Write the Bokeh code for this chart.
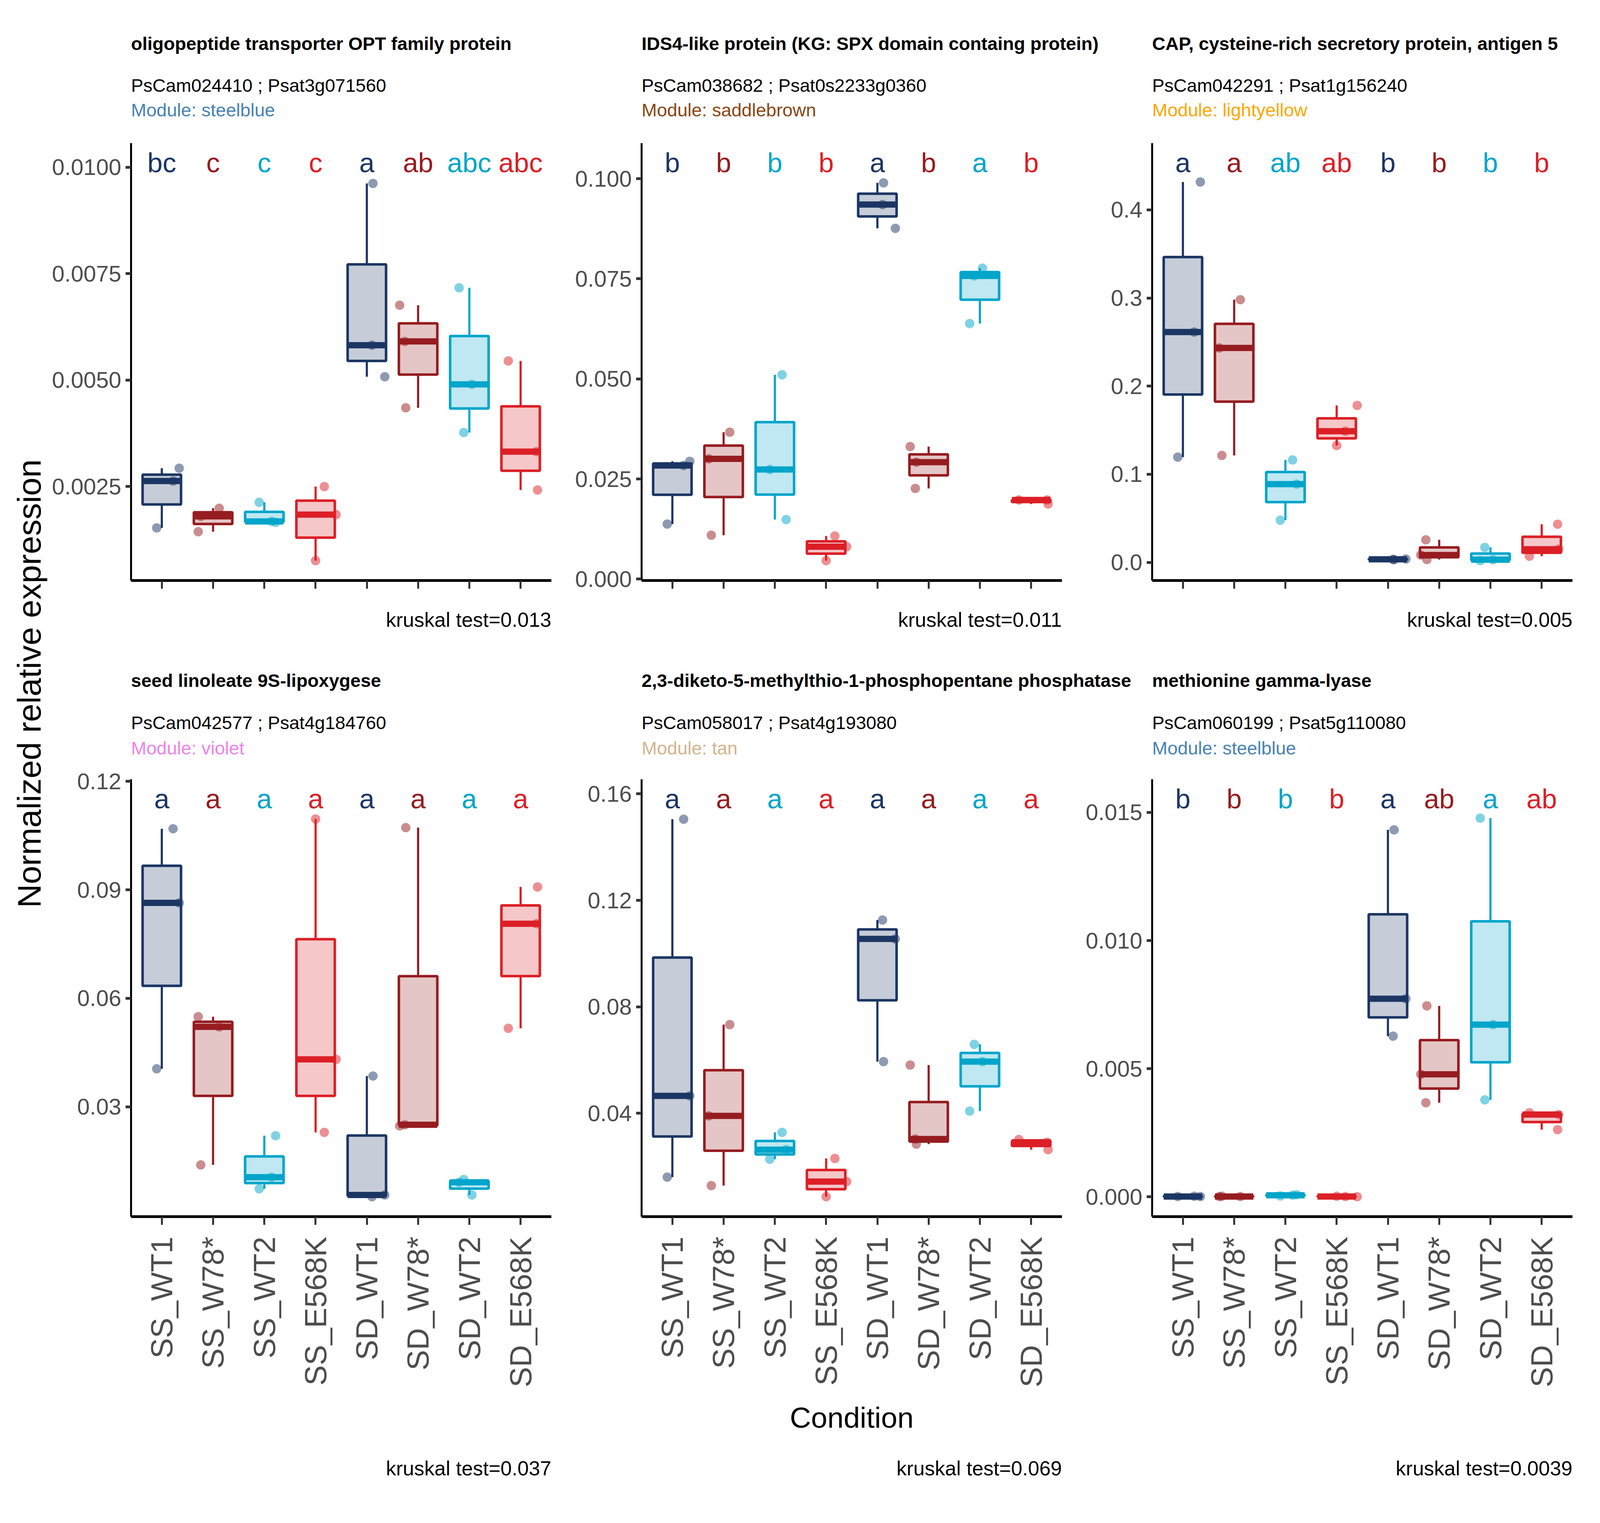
import numpy as np
from math import pi
from bokeh.plotting import figure
from bokeh.models import Range1d, FixedTicker, PrintfTickFormatter
from bokeh.layouts import row, column
from bokeh.embed import file_html
from bokeh.resources import INLINE
from bokeh.core.properties import value

FONT = "Liberation Sans"

# ---------------- data ----------------
conditions = ["SS_WT1", "SS_W78*", "SS_WT2", "SS_E568K",
              "SD_WT1", "SD_W78*", "SD_WT2", "SD_E568K"]
group_colors = ["#1C3664", "#961C20", "#00A5CA", "#DC1F26",
                "#1C3664", "#961C20", "#00A5CA", "#DC1F26"]

# horizontal jitter of the three replicates of each condition (shared by all panels)
jitter_offsets = [[-0.10, 0.22, 0.34], [-0.29, -0.24, 0.12], [-0.10, 0.14, 0.22],
                  [0.00, 0.17, 0.40], [0.10, 0.12, 0.35], [-0.36, -0.26, -0.24],
                  [-0.20, -0.11, 0.05], [-0.24, 0.31, 0.33]]

titles = ["oligopeptide transporter OPT family protein",
          "IDS4-like protein (KG: SPX domain containg protein)",
          "CAP, cysteine-rich secretory protein, antigen 5",
          "seed linoleate 9S-lipoxygese",
          "2,3-diketo-5-methylthio-1-phosphopentane phosphatase",
          "methionine gamma-lyase"]
gene_ids = ["PsCam024410 ; Psat3g071560", "PsCam038682 ; Psat0s2233g0360",
            "PsCam042291 ; Psat1g156240", "PsCam042577 ; Psat4g184760",
            "PsCam058017 ; Psat4g193080", "PsCam060199 ; Psat5g110080"]
modules = ["steelblue", "saddlebrown", "lightyellow", "violet", "tan", "steelblue"]
module_colors = ["#4682B4", "#8B4513", "#FFA500", "#EE82EE", "#D2B48C", "#4682B4"]
kruskal = ["0.013", "0.011", "0.005", "0.037", "0.069", "0.0039"]

letters = [["bc", "c", "c", "c", "a", "ab", "abc", "abc"],
           ["b", "b", "b", "b", "a", "b", "a", "b"],
           ["a", "a", "ab", "ab", "b", "b", "b", "b"],
           ["a"] * 8,
           ["a"] * 8,
           ["b", "b", "b", "b", "a", "ab", "a", "ab"]]

y_ticks = [[0.0025, 0.0050, 0.0075, 0.0100],
           [0.000, 0.025, 0.050, 0.075, 0.100],
           [0.0, 0.1, 0.2, 0.3, 0.4],
           [0.03, 0.06, 0.09, 0.12],
           [0.04, 0.08, 0.12, 0.16],
           [0.000, 0.005, 0.010, 0.015]]
y_formats = ["%.4f", "%.3f", "%.1f", "%.2f", "%.2f", "%.3f"]

expr_opt = [[0.00153, 0.00263, 0.00293], [0.00144, 0.00180, 0.00199],
            [0.00213, 0.00168, 0.00166], [0.00076, 0.00250, 0.00184],
            [0.00582, 0.00962, 0.00508], [0.00676, 0.00591, 0.00435],
            [0.00717, 0.00377, 0.00490], [0.00545, 0.00332, 0.00242]]
expr_ids4 = [[0.01373, 0.02838, 0.02941], [0.03002, 0.01096, 0.03668],
             [0.02736, 0.05103, 0.01486], [0.00461, 0.01076, 0.00809],
             [0.09355, 0.09898, 0.08760], [0.03309, 0.02264, 0.02920],
             [0.06383, 0.07572, 0.07766], [0.01977, 0.01977, 0.01875]]
expr_cap = [[0.1195, 0.2614, 0.4316], [0.2433, 0.1214, 0.2981],
            [0.0479, 0.1163, 0.0888], [0.1326, 0.1488, 0.1781],
            [0.0035, 0.0030, 0.0038], [0.0084, 0.0256, 0.0033],
            [0.0020, 0.0170, 0.0030], [0.0070, 0.0433, 0.0149]]
expr_lox = [[0.0405, 0.1069, 0.0864], [0.0549, 0.0139, 0.0521],
            [0.0073, 0.0105, 0.0220], [0.1096, 0.0229, 0.0431],
            [0.0051, 0.0385, 0.0056], [0.0247, 0.0250, 0.1072],
            [0.0091, 0.0099, 0.0056], [0.0517, 0.0806, 0.0908]]
expr_dk = [[0.0160, 0.1505, 0.0465], [0.0390, 0.0128, 0.0733],
           [0.0227, 0.0328, 0.0263], [0.0086, 0.0230, 0.0143],
           [0.1126, 0.0594, 0.1055], [0.0581, 0.0303, 0.0284],
           [0.0408, 0.0659, 0.0594], [0.0301, 0.0291, 0.0263]]
expr_mgl = [[0.00001, 0.00002, 0.00001], [0.00001, 0.00002, 0.00001],
            [0.00003, 0.00006, 0.00008], [0.00002, 0.00001, 0.00000],
            [0.00627, 0.01432, 0.00773], [0.00478, 0.00367, 0.00745],
            [0.01478, 0.00378, 0.00672], [0.00328, 0.00262, 0.00321]]
panels = [expr_opt, expr_ids4, expr_cap, expr_lox, expr_dk, expr_mgl]

# ---------------- layout: the page viewport is 4096 css px wide, 3900 tall ----------------
SX = 4096 / 6000.0   # horizontal css px per reference px (vertical is 1:1)


def isx(v):
    return int(round(v * SX))


MARGIN = 8
YLAB_W = isx(198) - MARGIN
COL_W = isx(1915)
L_BORDER = isx(304)
FRAME_W = isx(1576)
R_BORDER = COL_W - L_BORDER - FRAME_W
TOTAL_W = 3 * COL_W
FRAME_H = 1120
TOP_B = 45
MB1 = 40
MB2 = 470

FS_TITLE = "47px"
FS_YTICK = "58px"
FS_XTICK = "78px"
FS_LETTER = "70px"
FS_KW = "52px"
FS_COND = "75px"
FS_YLAB = "84px"


def text_fig(width, height):
    f = figure(width=width, height=height, x_range=Range1d(0, width), y_range=Range1d(0, height),
               output_backend="svg", toolbar_location=None, min_border=0,
               x_axis_location=None, y_axis_location=None)
    f.grid.visible = False
    f.outline_line_color = None
    return f


def make_main(k, bottom_row):
    vals = np.array(panels[k], dtype=float)
    lo = vals.min()
    hi = vals.max() * 1.05
    rng = hi - lo
    mb = MB2 if bottom_row else MB1
    p = figure(width=COL_W, height=TOP_B + FRAME_H + mb,
               x_range=Range1d(0.4, 8.6), y_range=Range1d(lo - 0.05 * rng, hi + 0.05 * rng),
               output_backend="svg", toolbar_location=None,
               min_border_left=L_BORDER, min_border_right=R_BORDER,
               min_border_top=TOP_B, min_border_bottom=mb)
    p.grid.visible = False
    p.outline_line_color = None
    xs = np.arange(1, 9)
    st = np.percentile(vals, [0, 25, 50, 75, 100], axis=1)
    p.segment(x0=xs, y0=st[3], x1=xs, y1=st[4], line_color=group_colors, line_width=5.5)
    p.segment(x0=xs, y0=st[0], x1=xs, y1=st[1], line_color=group_colors, line_width=5.5)
    p.vbar(x=xs, width=0.75, bottom=st[1], top=st[3], fill_color=group_colors, fill_alpha=0.25,
           line_color=group_colors, line_width=6.5)
    p.segment(x0=xs - 0.375, y0=st[2], x1=xs + 0.375, y1=st[2], line_color=group_colors,
              line_width=16, line_cap="butt")
    px = [g + 1 + j for g in range(8) for j in jitter_offsets[g]]
    py = vals.flatten()
    pc = [group_colors[g] for g in range(8) for _ in range(3)]
    p.scatter(px, py, size=24, fill_color=pc, fill_alpha=0.5, line_color=None)
    p.text(x=xs, y=[hi] * 8, text=letters[k], text_color=group_colors,
           text_font=value(FONT), text_font_size=FS_LETTER,
           text_align="center", text_baseline="middle")

    for ax in (p.xaxis[0], p.yaxis[0]):
        ax.axis_line_color = "black"
        ax.major_tick_line_color = "#333333"
        ax.major_tick_in = 0
        ax.minor_tick_line_color = None
        ax.major_label_text_font = FONT
        ax.major_label_text_color = "#4D4D4D"
    # x axis: horizontal line, vertical ticks
    p.xaxis.axis_line_width = 7
    p.xaxis.major_tick_line_width = 5
    p.xaxis.major_tick_out = 21
    # y axis: vertical line, horizontal ticks
    p.yaxis.axis_line_width = 5
    p.yaxis.major_tick_line_width = 7
    p.yaxis.major_tick_out = 14
    p.yaxis.major_label_text_font_size = FS_YTICK
    p.yaxis.ticker = FixedTicker(ticks=y_ticks[k])
    p.yaxis.formatter = PrintfTickFormatter(format=y_formats[k])
    p.yaxis.major_label_standoff = 11
    p.xaxis.ticker = FixedTicker(ticks=list(range(1, 9)))
    if bottom_row:
        p.xaxis.major_label_overrides = {i + 1: c for i, c in enumerate(conditions)}
        p.xaxis.major_label_orientation = pi / 2
        p.xaxis.major_label_text_font_size = FS_XTICK
        p.xaxis.major_label_standoff = 30
    else:
        p.xaxis.major_label_text_font_size = "0px"
        p.xaxis.major_label_text_color = None
        p.xaxis.major_label_standoff = 0
    return p


def make_header(ks, top, height, y_title, y_sub, y_mod):
    f = text_fig(TOTAL_W, height)
    xs = [L_BORDER + c * COL_W for c in range(3)]

    def yy(ref_y):
        return height - (ref_y - top)

    f.text(x=xs, y=[yy(y_title)] * 3, text=[titles[k] for k in ks],
           text_font=value(FONT), text_font_style="bold", text_font_size=FS_TITLE,
           text_color="black", text_align="left", text_baseline="middle")
    f.text(x=xs, y=[yy(y_sub)] * 3, text=[gene_ids[k] for k in ks],
           text_font=value(FONT), text_font_size=FS_TITLE,
           text_color="black", text_align="left", text_baseline="middle")
    f.text(x=xs, y=[yy(y_mod)] * 3, text=["Module: " + modules[k] for k in ks],
           text_font=value(FONT), text_font_size=FS_TITLE,
           text_color=[module_colors[k] for k in ks], text_align="left", text_baseline="middle")
    return f


def make_footer(ks, top, height, y_kw, y_cond=None):
    f = text_fig(TOTAL_W, height)
    xs = [L_BORDER + FRAME_W + c * COL_W for c in range(3)]

    def yy(ref_y):
        return height - (ref_y - top)

    f.text(x=xs, y=[yy(y_kw)] * 3, text=["kruskal test=" + kruskal[k] for k in ks],
           text_font=value(FONT), text_font_size=FS_KW, text_color="black",
           text_align="right", text_baseline="middle")
    if y_cond is not None:
        f.text(x=[COL_W + L_BORDER + FRAME_W / 2], y=[yy(y_cond)], text=["Condition"],
               text_font=value(FONT), text_font_size=FS_COND, text_color="black",
               text_align="center", text_baseline="middle")
    return f


# vertical positions (page px, equal to reference px)
top_h1 = MARGIN
top_m1 = 329
top_f1 = top_m1 + TOP_B + FRAME_H + MB1
top_h2 = 1640
top_m2 = 1958
top_f2 = top_m2 + TOP_B + FRAME_H + MB2
bottom = 3892

header1 = make_header([0, 1, 2], top_h1, top_m1 - top_h1, 119, 226, 289)
mains1 = [make_main(k, False) for k in (0, 1, 2)]
footer1 = make_footer([0, 1, 2], top_f1, top_h2 - top_f1, 1594)
header2 = make_header([3, 4, 5], top_h2, top_m2 - top_h2, 1750, 1858, 1923)
mains2 = [make_main(k, True) for k in (3, 4, 5)]
footer2 = make_footer([3, 4, 5], top_f2, bottom - top_f2, 3767, 3637)

TOTAL_H = bottom - MARGIN
ylab = text_fig(YLAB_W, TOTAL_H)
ylab.text(x=[74], y=[TOTAL_H - (1758 - MARGIN)],
          text=["Normalized relative expression"],
          text_font=value(FONT), text_font_size=FS_YLAB, text_color="black",
          text_align="center", text_baseline="middle", angle=pi / 2)

layout = row(ylab, column(header1, row(*mains1), footer1, header2, row(*mains2), footer2))

with open("out.html", "w") as fh:
    fh.write(file_html(layout, INLINE))
